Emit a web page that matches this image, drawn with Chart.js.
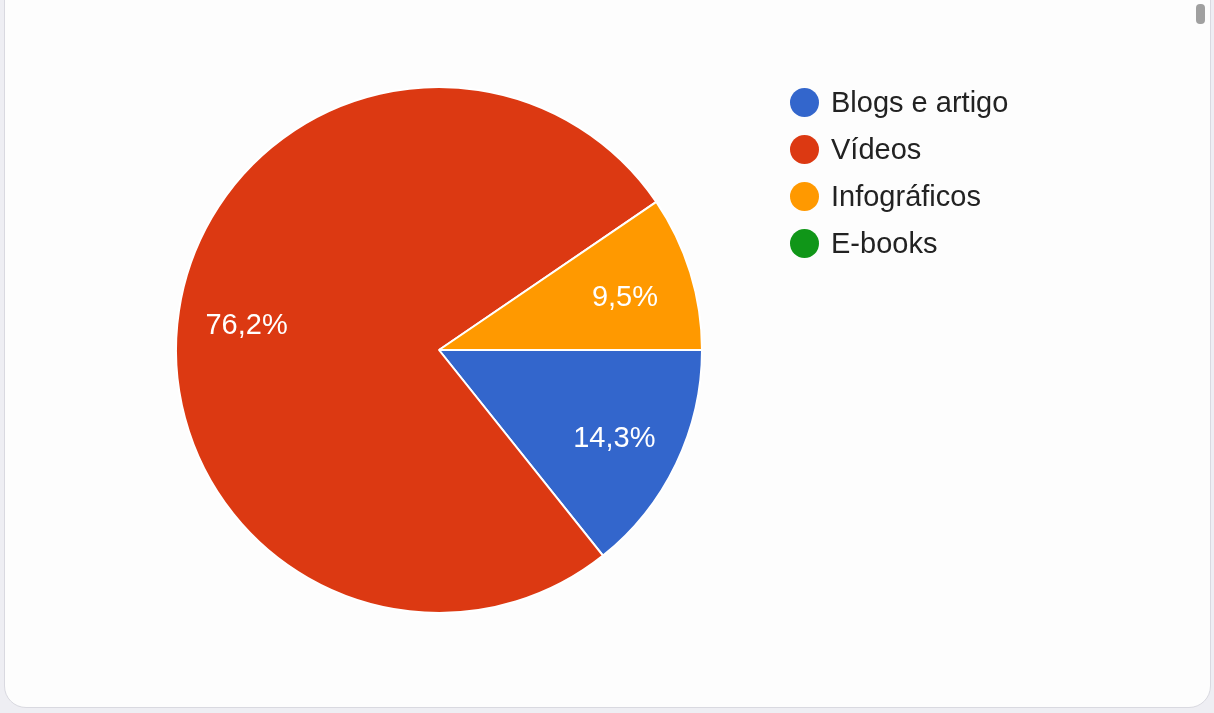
<!DOCTYPE html>
<html>
<head>
<meta charset="utf-8">
<script src="https://cdn.jsdelivr.net/npm/chart.js@4/dist/chart.umd.min.js"></script>
<style>
  html, body { margin: 0; padding: 0; }
  body {
    width: 1214px; height: 713px; overflow: hidden;
    background: #eeeef3; position: relative;
    font-family: "Liberation Sans", Arial, sans-serif;
  }
  .card {
    position: absolute; left: 4px; top: -30px; width: 1205px; height: 736px;
    background: #fdfdfd; border: 1px solid #d9d9e0; border-radius: 22px;
  }
  .thumb {
    position: absolute; left: 1196px; top: 4px; width: 9px; height: 20px;
    background: #a0a0a0; border-radius: 4px;
  }
  #chartBox { position: absolute; left: 0; top: 0; width: 878px; height: 700px; }
  #legend { position: absolute; left: 790px; top: 87px; list-style: none; margin: 0; padding: 0; }
  #legend li { display: flex; align-items: center; height: 30px; margin-bottom: 17px; font-size: 29px; color: #222; }
  #legend span.dot { width: 29px; height: 29px; border-radius: 50%; margin-right: 12px; }
</style>
</head>
<body>
<div class="card"></div>
<div class="thumb"></div>
<div id="chartBox"><canvas id="pieChart"></canvas></div>
<ul id="legend"></ul>
<script>
// ============ Data ============
const labels = ["Blogs e artigo", "Vídeos", "Infográficos", "E-books"];
const counts = [3, 16, 2, 0];
const colors = ["#3366cc", "#dc3912", "#ff9900", "#109618"];

// ============ Legend ============
document.getElementById("legend").innerHTML = labels
  .map((l, i) => `<li><span class="dot" style="background:${colors[i]}"></span>${l}</li>`)
  .join("");

// percent labels inside the slices
const sliceLabels = {
  id: "sliceLabels",
  afterDatasetsDraw(chart) {
    const ctx = chart.ctx;
    const data = chart.data.datasets[0].data;
    const total = data.reduce((a, b) => a + b, 0);
    ctx.save();
    ctx.font = "29px 'Liberation Sans', Arial, sans-serif";
    ctx.fillStyle = "#ffffff";
    ctx.textAlign = "center";
    ctx.textBaseline = "middle";
    chart.getDatasetMeta(0).data.forEach((arc, i) => {
      if (!data[i]) return;
      const { x, y, startAngle, endAngle, outerRadius } = arc.getProps(["x", "y", "startAngle", "endAngle", "outerRadius"], true);
      const mid = (startAngle + endAngle) / 2;
      const r = outerRadius * 0.74;
      const pct = (data[i] / total * 100).toFixed(1).replace(".", ",") + "%";
      ctx.fillText(pct, x + Math.cos(mid) * r, y + Math.sin(mid) * r + 5);
    });
    ctx.restore();
  }
};

new Chart(document.getElementById("pieChart").getContext("2d"), {
  type: "pie",
  data: {
    labels: labels,
    datasets: [{
      data: counts,
      backgroundColor: colors,
      borderColor: "#ffffff",
      borderWidth: 2,
      radius: 263
    }]
  },
  options: {
    responsive: true,
    maintainAspectRatio: false,
    animation: false,
    rotation: 90,
    layout: { padding: 0 },
    plugins: {
      legend: { display: false },
      tooltip: { enabled: false }
    }
  },
  plugins: [sliceLabels]
});
</script>
</body>
</html>
